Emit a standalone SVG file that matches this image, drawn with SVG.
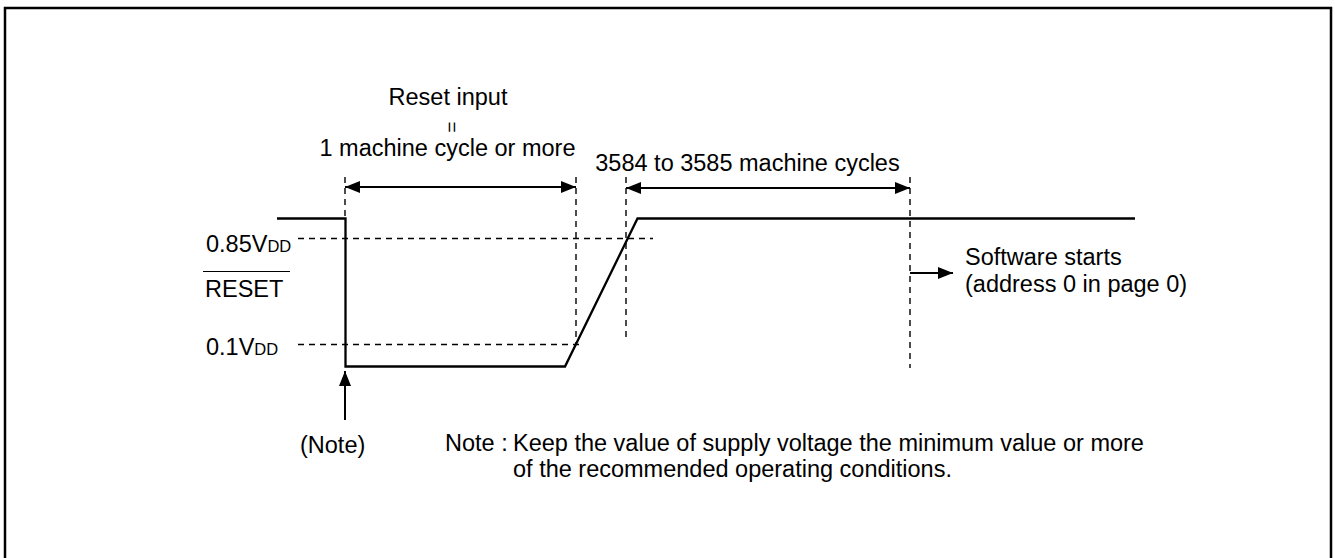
<svg xmlns="http://www.w3.org/2000/svg" width="1335" height="558" viewBox="0 0 1335 558">
<style>
text{font-family:"Liberation Sans",Arial,sans-serif;font-size:23.5px;fill:#000}
.sub{font-size:16.5px}
.wave{fill:none;stroke:#000;stroke-width:2.3}
.dash{fill:none;stroke:#000;stroke-width:1.4;stroke-dasharray:6,5}
.arr{fill:none;stroke:#000;stroke-width:2}
</style>
<defs>
<marker id="ah" viewBox="0 0 15 12" refX="15" refY="6" markerWidth="15" markerHeight="12" markerUnits="userSpaceOnUse" orient="auto-start-reverse">
<path d="M0,0 L15,6 L0,12 Z" fill="#000"/>
</marker>
</defs>
<rect x="5" y="8" width="1326" height="560" fill="#fff" stroke="#000" stroke-width="2.5"/>
<g id="guides">
<path class="dash" d="M298,238.5 H653"/>
<path class="dash" d="M298,344.5 H583"/>
<path class="dash" d="M345,177 V218"/>
<path class="dash" d="M576,177 V345"/>
<path class="dash" d="M626,177 V341"/>
<path class="dash" d="M910,177 V368"/>
</g>
<g id="waveform">
<path class="wave" d="M277,218.5 H345.5 V366.5 H565 L637.5,218.5 H1135"/>
</g>
<g id="labels">
<text x="206" y="251.5">0.85V<tspan class="sub">DD</tspan></text>
<text x="205" y="296.5">RESET</text>
<line x1="203" y1="271.5" x2="290" y2="271.5" stroke="#000" stroke-width="1"/>
<text x="206" y="355">0.1V<tspan class="sub">DD</tspan></text>
</g>
<g id="connectors">
<line class="arr" x1="345" y1="187" x2="576" y2="187" marker-start="url(#ah)" marker-end="url(#ah)"/>
<line class="arr" x1="626" y1="188" x2="910" y2="188" marker-start="url(#ah)" marker-end="url(#ah)"/>
<line class="arr" x1="910" y1="273" x2="953" y2="273" marker-end="url(#ah)"/>
<line class="arr" x1="345" y1="420" x2="345" y2="371" marker-end="url(#ah)"/>
</g>
<g id="reset-input-label">
<text x="448" y="105" text-anchor="middle">Reset input</text>
<text x="0" y="0" text-anchor="middle" style="font-size:19px" transform="translate(452,127) rotate(90) translate(0,6.5)">=</text>
<text x="447.5" y="156" text-anchor="middle">1 machine cycle or more</text>
</g>
<g id="cycles-label">
<text x="747.5" y="171" text-anchor="middle">3584 to 3585 machine cycles</text>
</g>
<g id="software-label">
<text x="965" y="265">Software starts</text>
<text x="965" y="292">(address 0 in page 0)</text>
</g>
<g id="note-labels">
<text x="300" y="453">(Note)</text>
<text x="445" y="451">Note :</text>
<text x="513" y="451">Keep the value of supply voltage the minimum value or more</text>
<text x="513" y="477">of the recommended operating conditions.</text>
</g>
</svg>
